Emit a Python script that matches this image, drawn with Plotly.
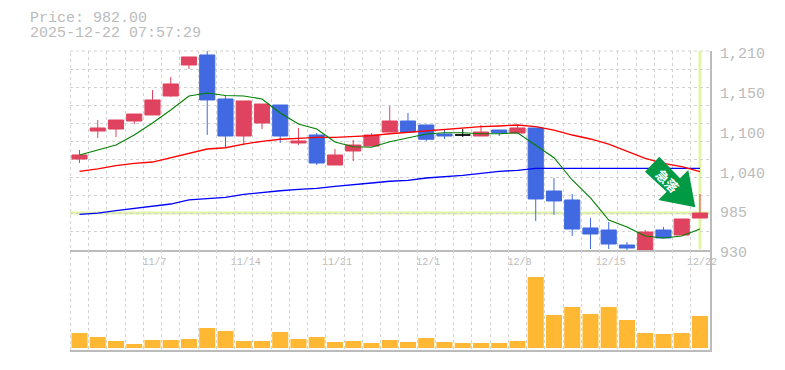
import plotly.graph_objects as go

dates = ["10/31","11/4","11/5","11/6","11/7","11/10","11/11","11/12","11/13","11/14","11/17","11/18","11/19","11/20","11/21",
         "11/25","11/26","11/27","11/28","12/1","12/2","12/3","12/4","12/5","12/8","12/9","12/10","12/11","12/12","12/15",
         "12/16","12/17","12/18","12/19","12/22"]
tick_labels = ["11/7","11/14","11/21","12/1","12/8","12/15","12/22"]
price_ticks = [1210,1154,1098,1042,986,930]
price_tick_text = ["1,210","1,150","1,100","1,040","985","930"]

opens  = [1058.0,1097.4,1100.2,1111.5,1120.0,1146.7,1190.3,1204.4,1142.5,1090.4,1108.7,1134.0,1080.6,1091.8,1049.6,
          1069.3,1076.3,1096.0,1111.5,1105.9,1093.2,1091.8,1090.4,1098.8,1094.6,1101.7,1013.0,1000.4,961.0,958.1,
          937.0,930.0,958.1,951.1,975.0]
closes = [1063.7,1101.7,1112.9,1121.3,1141.1,1163.6,1201.6,1141.1,1090.4,1139.7,1135.4,1090.4,1083.4,1052.4,1063.7,
          1077.7,1091.8,1111.5,1096.0,1085.8,1090.4,1091.8,1096.0,1095.0,1101.7,1001.8,999.0,959.5,952.5,938.4,
          932.8,955.3,946.9,973.6,982.0]
highs  = [1070.7,1112.9,1112.9,1121.3,1155.1,1173.4,1201.6,1211.4,1148.1,1139.7,1135.4,1134.0,1101.7,1094.6,1072.1,
          1084.8,1094.6,1132.6,1122.8,1105.9,1100.2,1100.2,1105.9,1098.8,1105.9,1101.7,1031.3,1008.8,975.0,969.4,
          941.3,958.1,962.4,973.6,1008.8]
lows   = [1052.4,1087.6,1089.0,1107.3,1120.0,1145.3,1184.7,1092.0,1074.9,1077.7,1100.2,1080.6,1077.7,1049.6,1049.6,
          1055.2,1076.3,1096.0,1096.0,1083.4,1086.2,1089.0,1090.4,1090.4,1094.6,970.8,979.3,949.7,931.4,931.4,
          928.6,930.0,946.9,951.1,975.0]
doji_date = "12/3"

ma_short = [1063.7,1070.7,1077.7,1091.8,1108.7,1127.0,1146.7,1150.9,1147.4,1146.7,1142.5,1122.8,1107.3,1100.2,1082.0,
            1075.3,1074.5,1082.4,1088.0,1093.2,1095.0,1095.0,1093.6,1093.6,1095.0,1077.7,1059.9,1028.5,1003.2,972.2,
            962.4,949.7,946.9,949.7,959.5]
ma_mid   = [1040.7,1044.0,1048.6,1052.0,1053.8,1059.9,1066.9,1072.1,1073.9,1079.1,1082.9,1085.8,1087.2,1088.6,1088.6,
            1090.0,1090.8,1093.6,1095.6,1097.9,1099.8,1101.2,1103.5,1104.5,1105.9,1103.5,1098.8,1091.8,1086.2,1079.1,
            1068.9,1059.0,1052.0,1047.2,1040.2]
ma_long  = [980.2,982.0,985.3,988.1,990.9,994.7,1000.4,1002.7,1004.1,1008.4,1011.2,1013.4,1015.4,1016.8,1019.6,
            1021.5,1024.3,1026.7,1028.1,1031.3,1033.1,1035.1,1037.9,1040.7,1042.1,1044.9,1044.9,1044.9,1044.9,1044.9,
            1044.9,1044.9,1044.9,1044.9,1044.9]
volume = [15,11,7,4,8,8,9,20,17,7,7,16,9,11,6,7,5,8,6,10,6,5,5,5,7,71,33,41,34,41,28,15,14,15,32]
last_price = 982.0
title_lines = ["Price: 982.00", "2025-12-22 07:57:29"]

RED, BLUE, ORANGE = "#e0435f", "#4169e1", "#ffb833"
GRID, TEXT, FRAME, MARK = "#d2d2d2", "#bbbbbb", "#bbbbbb", "#e2f5a6"
FONT = "Liberation Mono"
PAGE = 8  # browser's default body margin
W, H = 785 - 2 * PAGE, 370 - 2 * PAGE
L, R, T, B = 70 - PAGE, 710 - PAGE, 51 - PAGE, 350 - PAGE
SPLIT = 100 / (B - T)
xs = list(range(len(dates)))
x_range = [-0.52, 34.55]
di = dates.index(doji_date)

def px(x):
    return (x - PAGE - L) / (R - L)
def py(y):
    return (B - (y - PAGE)) / (B - T)

fig = go.Figure()
fig.add_trace(go.Candlestick(
    x=[x for x in xs if x != di],
    open=[v for i, v in enumerate(opens) if i != di],
    high=[v for i, v in enumerate(highs) if i != di],
    low=[v for i, v in enumerate(lows) if i != di],
    close=[v for i, v in enumerate(closes) if i != di],
    increasing=dict(line=dict(color=RED, width=1), fillcolor=RED),
    decreasing=dict(line=dict(color=BLUE, width=1), fillcolor=BLUE),
    whiskerwidth=0, xaxis="x", yaxis="y", hoverinfo="skip"))
fig.add_trace(go.Candlestick(
    x=[di], open=[opens[di]], high=[highs[di]], low=[lows[di]], close=[closes[di]],
    increasing=dict(line=dict(color="#000000", width=1), fillcolor="#000000"),
    decreasing=dict(line=dict(color="#000000", width=1), fillcolor="#000000"),
    whiskerwidth=0, xaxis="x", yaxis="y", hoverinfo="skip"))
for vals, col, w in [(ma_long, "#0000ff", 1.3), (ma_mid, "#ff0000", 1.3), (ma_short, "#008000", 1.1)]:
    fig.add_trace(go.Scatter(x=xs, y=vals, mode="lines", line=dict(color=col, width=w),
                             xaxis="x", yaxis="y", hoverinfo="skip"))
fig.add_trace(go.Bar(x=xs, y=volume, marker=dict(color=ORANGE, line=dict(width=0)), width=0.88,
                     xaxis="x2", yaxis="y2", hoverinfo="skip"))

arrow = [(659.3,156.7),(645,171.7),(666.7,191.7),(658.3,200),(695.3,207.3),(688.3,170),(680,178.3)]
path = "M " + " L ".join(f"{px(a):.4f},{py(b):.4f}" for a, b in arrow) + " Z"
edge = dict(color=GRID, width=1, dash="3px,3px")
shapes = [
    dict(type="line", xref="paper", yref="paper", x0=0, x1=1, y0=1, y1=1, line=edge, layer="below"),
    dict(type="line", xref="paper", yref="paper", x0=0.001, x1=0.001, y0=0, y1=1, line=edge, layer="below"),
    dict(type="line", xref="x", yref="y", x0=x_range[0], x1=x_range[1], y0=last_price, y1=last_price,
         line=dict(color=MARK, width=3), layer="below"),
    dict(type="line", xref="x", yref="y", x0=xs[-1], x1=xs[-1], y0=931, y1=1210,
         line=dict(color=MARK, width=3), layer="below"),
    dict(type="path", xref="paper", yref="paper", path=path, fillcolor="#009944", line=dict(width=0), layer="above"),
]
annotations = [
    dict(text=title_lines[0], xref="paper", yref="paper", x=px(28), y=py(18), xanchor="left", yanchor="middle",
         showarrow=False, font=dict(family=FONT, size=15, color=TEXT)),
    dict(text=title_lines[1], xref="paper", yref="paper", x=px(28), y=py(33), xanchor="left", yanchor="middle",
         showarrow=False, font=dict(family=FONT, size=15, color=TEXT)),
    dict(text="<b>急落</b>", xref="paper", yref="paper", x=px(667.5), y=py(180), xanchor="center", yanchor="middle",
         textangle=45, showarrow=False, font=dict(family="Noto Sans CJK JP", size=13, color="#ffffff")),
]
minor_x = dict(showgrid=True, tickmode="linear", tick0=-0.5, dtick=1, gridcolor=GRID, griddash="3px,3px", gridwidth=1, ticks="")
axis_x = dict(range=x_range, type="linear", zeroline=False, showgrid=False, minor=minor_x,
              rangeslider=dict(visible=False))
fig.update_layout(
    width=W, height=H, autosize=False, showlegend=False,
    paper_bgcolor="#ffffff", plot_bgcolor="#ffffff",
    margin=dict(l=L, r=W - R, t=T, b=H - B, autoexpand=False),
    boxgap=0.17, boxgroupgap=0, boxmode="overlay",
    shapes=shapes, annotations=annotations,
    xaxis=dict(axis_x, anchor="y", tickmode="array",
               tickvals=[dates.index(t) for t in tick_labels], ticktext=tick_labels,
               ticklabelshift=2, tickfont=dict(family=FONT, size=10, color=TEXT),
               showline=True, linecolor=FRAME, linewidth=2, ticks="outside", ticklen=1, tickcolor="rgba(0,0,0,0)"),
    xaxis2=dict(axis_x, anchor="y2", matches="x", tickmode="array", tickvals=[], showticklabels=False,
                showline=True, linecolor=FRAME, linewidth=2),
    yaxis=dict(domain=[SPLIT, 1], range=[930, 1210], side="right", anchor="x", zeroline=False, showgrid=False,
               tickmode="array", tickvals=price_ticks, ticktext=price_tick_text,
               ticks="outside", ticklen=5, tickcolor="rgba(0,0,0,0)", ticklabelshift=2,
               tickfont=dict(family=FONT, size=15, color=TEXT),
               showline=True, linecolor=FRAME, linewidth=2,
               minor=dict(showgrid=True, tickmode="linear", tick0=930, dtick=280 / 11,
                          gridcolor=GRID, griddash="3px,3px", gridwidth=1, ticks="")),
    yaxis2=dict(domain=[0, SPLIT], range=[-2, 98], side="right", anchor="x2", zeroline=False, showgrid=False,
                showticklabels=False, showline=True, linecolor=FRAME, linewidth=2),
)
fig.write_html("out.html", config=dict(displayModeBar=False))
